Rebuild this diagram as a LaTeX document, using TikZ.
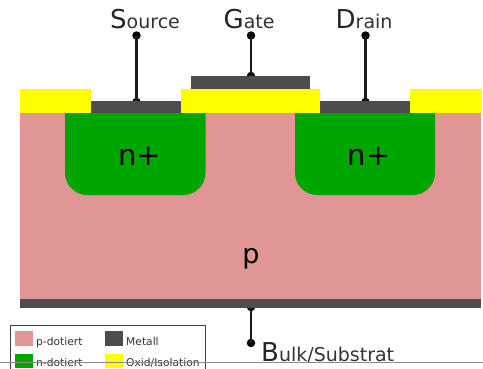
\documentclass[tikz,border=0pt]{standalone}
\usepackage{fontspec}
\setmainfont{DejaVu Sans}
\definecolor{pink}{HTML}{E09694}
\definecolor{ngreen}{HTML}{00A600}
\definecolor{metal}{HTML}{4D4D4D}
\definecolor{oxid}{HTML}{FFFF00}
\definecolor{txt}{HTML}{333333}
\newcommand{\fs}[1]{\fontsize{#1}{#1}\selectfont}
\tikzset{
  px/.style={x=1pt,y=-1pt},
  area/.style={fill=#1,draw=none},
  wire/.style={line width=2.4pt,black!90},
  dot/.style={circle,fill=black,inner sep=0pt,minimum size=8.5pt},
  lbl/.style={inner sep=0pt,anchor=base west,text=txt},
  big/.style={inner sep=0pt,anchor=base,text=black},
  leg/.style={inner sep=0pt,anchor=base west,text=txt,font=\fs{10.7}},
}
\newcommand{\term}[2]{{\fs{26}\textcolor{black!85}{#1}}{\fs{19}#2}}
\begin{document}
\begin{tikzpicture}[px]
\useasboundingbox (0,0) rectangle (483,368);
\fill[white] (0,0) rectangle (483,368);
% substrate and wells
\fill[area=pink] (20,113) rectangle (481,299);
\fill[area=ngreen] (65,113) -- (65,173) .. controls (65,185) and (75,195) .. (87,195) -- (183.5,195) .. controls (195.5,195) and (205.5,185) .. (205.5,173) -- (205.5,113) -- cycle;
\fill[area=ngreen] (295,113) -- (295,173) .. controls (295,185) and (305,195) .. (317,195) -- (413,195) .. controls (425,195) and (435,185) .. (435,173) -- (435,113) -- cycle;
% oxide
\fill[area=oxid] (20,89) rectangle (91,113);
\fill[area=oxid] (181,89) rectangle (320,113);
\fill[area=oxid] (410,89) rectangle (481,113);
% terminals
\node[dot] (st) at (136.5,35.5) {};
\node[dot] (sb) at (136.5,102) {};
\node[dot] (gt) at (251,35.5) {};
\node[dot] (gb) at (251,76) {};
\node[dot] (dt) at (365.5,35.5) {};
\node[dot] (db) at (365.5,102) {};
\node[dot] (bt) at (251,307) {};
\node[dot] (bb) at (251,343) {};
\draw[wire] (st.center) -- (sb.center);
\draw[wire] (gt.center) -- (gb.center);
\draw[wire] (dt.center) -- (db.center);
\draw[wire] (bt.center) -- (bb.center);
% metal
\fill[area=metal] (91,101) rectangle (181,113);
\fill[area=metal] (320,101) rectangle (410,113);
\fill[area=metal] (191,76) rectangle (309.5,89);
\fill[area=metal] (20,299) rectangle (481,308);
% labels
\node[lbl] (ls) at (110,28) {\term{S}{ource}};
\node[lbl] (lg) at (223.5,28) {\term{G}{ate}};
\node[lbl] (ld) at (335.5,28) {\term{D}{rain}};
\node[lbl] (lb) at (261,361.5) {\term{B}{ulk/Substrat}};
\node[big,font=\fs{29}] (n1) at (139.5,165.5) {n+};
\node[big,font=\fs{29}] (n2) at (369,165.5) {n+};
\node[big,font=\fs{27}] (p) at (251,263) {p};
% legend
\draw[line width=0.9pt,black!75] (10,369) -- (10,325) -- (205.5,325) -- (205.5,369);
\fill[area=pink] (15,331) rectangle (33,346);
\fill[area=ngreen] (15,353.5) rectangle (33,368);
\fill[area=metal] (105,331) rectangle (123,346);
\fill[area=oxid] (105,353.5) rectangle (123,368);
\node[leg] (t1) at (36,345) {p-dotiert};
\node[leg] (t2) at (36,366) {n-dotiert};
\node[leg] (t3) at (126,345) {Metall};
\node[leg] (t4) at (126,366) {Oxid/Isolation};
% base line
\draw[line width=0.8pt,black!45] (0,362) -- (483,362);
\end{tikzpicture}
\end{document}
